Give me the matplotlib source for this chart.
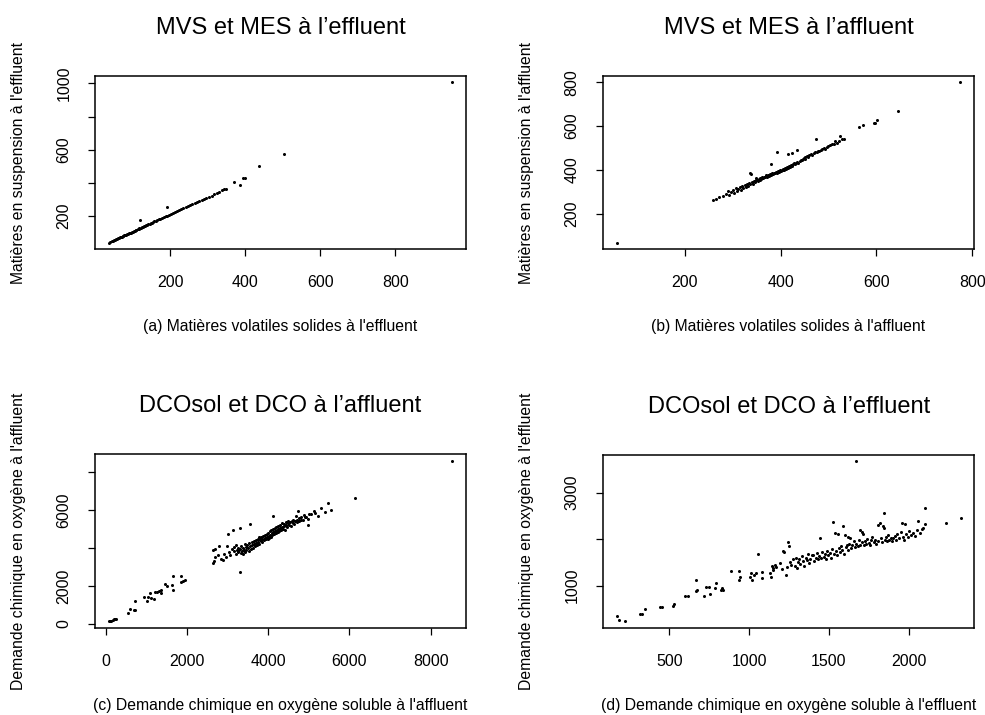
import matplotlib
matplotlib.use("Agg")
import matplotlib.pyplot as plt

plt.rcParams['font.family'] = ['Liberation Sans', 'DejaVu Sans']

# (a) MVS / MES effluent
a_x = [36, 40, 44, 47, 50, 53, 56, 58, 61, 63, 66, 68, 71, 73, 75, 78, 80, 82, 85, 87,
       90, 92, 95, 97, 100, 103, 105, 108, 110, 113, 116, 118, 121, 124, 127, 130, 133,
       136, 139, 142, 145, 148, 152, 155, 158, 162, 166, 170, 174, 178, 183, 188, 192,
       197, 202, 207, 212, 218, 223, 229, 235, 241, 247, 253, 259, 265, 271, 277, 284,
       290, 296, 303, 310, 317, 324, 331, 338, 344, 349, 120, 191, 371, 387, 393, 398,
       437, 504, 951]
a_y = [40, 44, 48, 51, 55, 57, 61, 62, 66, 68, 71, 74, 76, 79, 80, 84, 86, 88, 92, 93,
       96, 99, 101, 104, 107, 110, 112, 116, 117, 121, 123, 126, 129, 132, 135, 138, 141,
       145, 147, 151, 153, 157, 161, 164, 168, 171, 176, 180, 184, 189, 193, 199, 203,
       208, 213, 218, 224, 229, 236, 241, 247, 252, 259, 266, 271, 278, 283, 291, 297,
       303, 310, 317, 323, 331, 338, 348, 356, 362, 363, 174, 256, 406, 390, 432, 432,
       500, 576, 1006]

# (b) MVS / MES affluent
b_x = [58, 258, 265, 272, 280, 286, 290, 293, 297, 300, 303, 306, 309, 312, 315, 317, 320,
       322, 325, 327, 330, 332, 335, 337, 337, 338, 340, 342, 344, 346, 348, 349, 350, 352,
       354, 356, 358, 360, 362, 364, 366, 368, 370, 372, 374, 376, 378, 379, 380, 382, 384,
       386, 388, 390, 392, 392, 394, 396, 398, 400, 402, 404, 406, 408, 410, 412, 414, 416,
       416, 418, 420, 422, 424, 424, 426, 428, 430, 432, 435, 435, 437, 440, 442, 444, 446,
       448, 450, 452, 455, 458, 460, 463, 466, 469, 472, 473, 475, 478, 481, 484, 487, 490,
       493, 496, 499, 503, 507, 511, 514, 518, 521, 525, 528, 532, 563, 573, 594, 598, 602,
       646, 775]
b_y = [68, 262, 268, 275, 282, 290, 305, 287, 300, 308, 297, 318, 305, 312, 322, 309, 326,
       318, 330, 323, 335, 328, 340, 334, 387, 380, 345, 338, 350, 343, 352, 363, 355, 348,
       358, 352, 362, 357, 366, 362, 370, 366, 375, 370, 378, 373, 382, 425, 377, 385, 381,
       388, 385, 392, 388, 481, 395, 391, 398, 396, 402, 399, 405, 402, 409, 406, 413, 410,
       473, 417, 414, 421, 418, 478, 425, 430, 427, 434, 493, 438, 433, 442, 447, 445, 450,
       455, 452, 458, 463, 460, 467, 471, 469, 476, 480, 543, 484, 488, 486, 492, 496, 500,
       498, 505, 510, 512, 517, 520, 531, 525, 531, 557, 540, 542, 596, 607, 615, 615, 626,
       671, 800]

# (c) DCOsol / DCO affluent
c_x = [74, 107, 140, 181, 200, 222, 254, 550, 599, 697, 714, 731, 944, 1026, 1035, 1084,
       1108, 1191, 1224, 1273, 1306, 1355, 1355, 1453, 1519, 1634, 1659, 1659, 1847, 1847,
       1905, 1946,
       2630, 2650, 2660, 2690, 2700, 2760, 2800, 2850, 2890, 2920, 2960, 2980, 3010, 3030,
       3060, 3100, 3130, 3150, 3170, 3200, 3210, 3230, 3250, 3260, 3280, 3300, 3300, 3310,
       3330, 3340, 3360, 3380, 3390, 3400, 3420, 3430, 3450, 3460, 3480, 3500, 3520, 3530,
       3550, 3550, 3570, 3590, 3600, 3620, 3640, 3650, 3670, 3690, 3700, 3720, 3740, 3750,
       3770, 3780, 3790, 3800, 3820, 3830, 3850, 3860, 3880, 3890, 3900, 3920, 3930, 3950,
       3960, 3970, 3990, 4000, 4010, 4030, 4040, 4050, 4070, 4080, 4090, 4100, 4120, 4121,
       4130, 4150, 4160, 4170, 4190, 4200, 4210, 4230, 4240, 4250, 4270, 4280, 4290, 4310,
       4330, 4350, 4360, 4380, 4400, 4410, 4430, 4450, 4470, 4490, 4500, 4520, 4540, 4560,
       4580, 4600, 4620, 4640, 4660, 4680, 4700, 4720, 4740, 4750, 4770, 4800, 4820, 4860,
       4880, 4900, 4940, 4970, 4984, 5000, 5066, 5130, 5148, 5230, 5290, 5390, 5476, 5540,
       6133, 8530]
c_y = [138, 150, 175, 227, 250, 280, 280, 582, 793, 741, 1233, 741, 1444, 1233, 1400, 1619,
       1376, 1321, 1672, 1672, 1725, 1799, 1620, 2079, 2010, 2063, 1762, 2502, 2540, 2201,
       2254, 2291,
       3210, 3880, 3300, 3520, 3950, 3640, 4090, 3420, 3350, 3700, 3530, 4100, 4760, 3800,
       3620, 3930, 4940, 4050, 3850, 3700, 4150, 3920, 3780, 4020, 3880, 5030, 2730, 3960,
       3750, 4100, 3860, 4000, 3700, 3920, 4200, 3800, 4050, 3900, 4150, 3980, 4250, 3850,
       5250, 4100, 3950, 4300, 4150, 4000, 4350, 4220, 4100, 4400, 4280, 4150, 4450, 4300,
       4600, 4200, 4400, 4500, 4350, 4600, 4450, 4300, 4650, 4500, 4400, 4700, 4550, 4450,
       4750, 4600, 4500, 4800, 4650, 4550, 4900, 4700, 4600, 4950, 4800, 4700, 5000, 5690,
       4850, 4750, 5050, 4900, 4800, 5100, 4950, 4850, 5150, 5000, 4900, 5200, 5050, 4950,
       5100, 5300, 5000, 5150, 5250, 4950, 5350, 5200, 5100, 5300, 5450, 5200, 5350, 5150,
       5400, 5300, 5500, 5250, 5450, 5700, 5350, 5500, 5960, 5600, 5400, 5650, 5500, 5470,
       5750, 5640, 5640, 5550, 5200, 5800, 5780, 5960, 5870, 5680, 6085, 5890, 6380, 5995,
       6614, 8603]

# (d) DCOsol / DCO effluent
d_x = [173, 183, 225, 314, 329, 350, 444, 454, 523, 531, 600, 615, 669, 673, 669, 715, 731,
       746, 756, 784, 794, 823, 830, 836, 888, 934, 944, 940, 1003, 1011, 1017, 1032, 1044,
       1053, 1080, 1084, 1132, 1138, 1145, 1149, 1153, 1163, 1170, 1195, 1205, 1215, 1220,
       1230, 1236, 1247, 1249,
       1257, 1265, 1275, 1285, 1292, 1299, 1305, 1315, 1320, 1330, 1340, 1345, 1355, 1362,
       1370, 1378, 1385, 1392, 1403, 1410, 1418, 1425, 1433, 1440, 1445, 1452, 1460, 1468,
       1475, 1482, 1490, 1497, 1505, 1512, 1520, 1524, 1530, 1539, 1545, 1552, 1560, 1562,
       1570, 1578, 1585, 1591, 1595, 1601, 1605, 1612, 1618, 1622, 1628, 1633, 1640, 1648,
       1655, 1662, 1670, 1672, 1680, 1688, 1695, 1698, 1706, 1710, 1716, 1720, 1728, 1735,
       1742, 1750, 1758, 1765, 1772, 1780, 1788, 1795, 1806, 1810, 1820, 1825, 1832, 1841,
       1845, 1845, 1850, 1858, 1865, 1872, 1880, 1888, 1895, 1904, 1912, 1920, 1930, 1940,
       1950, 1956, 1962, 1970, 1977, 1985, 1995, 2005, 2015, 2025, 2040, 2050, 2060, 2070,
       2081, 2091, 2102, 2102, 2233, 2325]
d_y = [337, 251, 230, 394, 386, 494, 530, 537, 551, 608, 779, 779, 1108, 908, 872, 779, 958,
       958, 815, 944, 1050, 908, 944, 908, 1322, 1122, 1193, 1322, 1193, 1265, 1122, 1229,
       1265, 1672, 1158, 1300, 1279, 1179, 1422, 1336, 1372, 1443, 1407, 1479, 1350, 1750,
       1729, 1229, 1393, 1928, 1850,
       1514, 1450, 1560, 1420, 1600, 1371, 1500, 1580, 1470, 1640, 1520, 1430, 1600, 1540,
       1680, 1480, 1580, 1650, 1657, 1520, 1600, 1700, 1560, 1640, 2028, 1590, 1720, 1620,
       1680, 1560, 1750, 1650, 1700, 1600, 1780, 2371, 1680, 2121, 1740, 1650, 2100, 1800,
       1720, 1850, 1760, 2285, 1680, 2085, 1820, 1871, 1760, 2050, 1900, 2014, 1800, 1880,
       1950, 1830, 3670, 1900, 1860, 1980, 2192, 1880, 2142, 1930, 2100, 1870, 1960, 1900,
       2000, 1920, 1880, 1970, 2050, 1930, 1990, 1900, 2299, 1960, 2335, 2020, 1940, 2285,
       2570, 2228, 1980, 2040, 1950, 2080, 1990, 2030, 1950, 2014, 2060, 1980, 2100, 2020,
       2150, 2335, 2050, 1980, 2313, 2100, 2040, 2180, 2080, 2130, 2060, 2200, 2385, 2120,
       2214, 2242, 2321, 2677, 2335, 2442]

panels = [
    (a_x, a_y, [0.0964, 0.6517, 0.3766, 0.2420],
     "MVS et MES à l’effluent",
     "(a) Matières volatiles solides à l'effluent",
     "Matières en suspension à l'effluent",
     [200, 400, 600, 800], ["200", "400", "600", "800"],
     [200, 400, 600, 800, 1000], ["200", "", "600", "", "1000"]),
    (b_x, b_y, [0.6122, 0.6517, 0.3766, 0.2420],
     "MVS et MES à l’affluent",
     "(b) Matières volatiles solides à l'affluent",
     "Matières en suspension à l'affluent",
     [200, 400, 600, 800], ["200", "400", "600", "800"],
     [200, 400, 600, 800], ["200", "400", "600", "800"]),
    (c_x, c_y, [0.0964, 0.1221, 0.3766, 0.2425],
     "DCOsol et DCO à l’affluent",
     "(c) Demande chimique en oxygène soluble à l'affluent",
     "Demande chimique en oxygène à l'affluent",
     [0, 2000, 4000, 6000, 8000], ["0", "2000", "4000", "6000", "8000"],
     [0, 2000, 4000, 6000, 8000], ["0", "2000", "", "6000", ""]),
    (d_x, d_y, [0.6125, 0.1221, 0.3766, 0.2415],
     "DCOsol et DCO à l’effluent",
     "(d) Demande chimique en oxygène soluble à l'effluent",
     "Demande chimique en oxygène à l'effluent",
     [500, 1000, 1500, 2000], ["500", "1000", "1500", "2000"],
     [1000, 2000, 3000], ["1000", "", "3000"]),
]

fig = plt.figure(figsize=(9.85, 7.15), dpi=100)

for x, y, pos, title, xlab, ylab, xt, xtl, yt, ytl in panels:
    ax = fig.add_axes(pos)
    ax.plot(x, y, 'o', color='black', markersize=2.2, markeredgewidth=0)
    ax.margins(0.04)
    ax.set_xticks(xt)
    ax.set_xticklabels(xtl)
    ax.set_yticks(yt)
    ax.set_yticklabels(ytl)
    ax.tick_params(direction='out', length=5, width=0.9, labelsize=11.5)
    ax.tick_params(axis='x', pad=14)
    ax.tick_params(axis='y', pad=12, labelrotation=90)
    for lbl in ax.get_yticklabels():
        lbl.set_va('center')
    for s in ax.spines.values():
        s.set_linewidth(1.1)

    l, b, w, h = pos
    cx = l + w / 2
    top = b + h
    fig.text(cx, top + 0.067, title, ha='center', va='center', fontsize=17)
    fig.text(cx, b - 0.1085, xlab, ha='center', va='center', fontsize=11.3)
    fig.text(l - 0.0775, b + h / 2, ylab, ha='center', va='center',
             rotation=90, fontsize=11.3)

fig.savefig("out.png", dpi=100)
